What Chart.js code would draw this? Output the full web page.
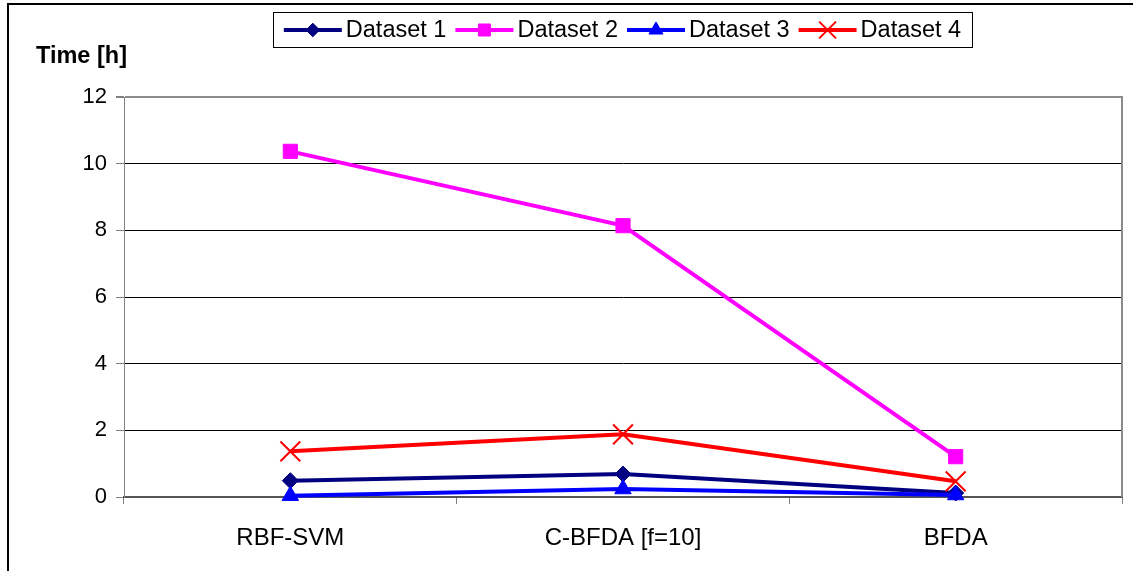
<!DOCTYPE html>
<html>
<head>
<meta charset="utf-8">
<script src="https://cdn.jsdelivr.net/npm/chart.js@4.4.1/dist/chart.umd.min.js"></script>
<style>
  html, body { margin: 0; padding: 0; background: #fff; }
  #wrap { width: 1133px; height: 571px; position: relative; }
</style>
</head>
<body>
<div id="wrap"><canvas id="c" width="1133" height="571"></canvas></div>
<script>
// Training time per method, in hours
const categories = ['RBF-SVM', 'C-BFDA [f=10]', 'BFDA'];
const dataset1 = [0.49, 0.69, 0.12];
const dataset2 = [10.37, 8.14, 1.21];
const dataset3 = [0.04, 0.24, 0.06];
const dataset4 = [1.37, 1.88, 0.47];
const seriesNames = ['Dataset 1', 'Dataset 2', 'Dataset 3', 'Dataset 4'];
const yTickValues = [0, 2, 4, 6, 8, 10, 12];
const axisTitle = 'Time [h]';

const FONT = "'Liberation Sans', Arial, sans-serif";

const seriesStyle = [
  { color: '#000080', point: 'rectRot', radius: 8, pbw: 1 },
  { color: '#FF00FF', point: 'rect', radius: 10, pbw: 1 },
  { color: '#0000FF', point: 'triangle', radius: 9.5, pbw: 1 },
  { color: '#FF0000', point: 'crossRot', radius: 14, pbw: 2 }
];
const seriesValues = [dataset1, dataset2, dataset3, dataset4];

const datasets = seriesValues.map((vals, i) => ({
  label: seriesNames[i],
  data: vals,
  borderColor: seriesStyle[i].color,
  backgroundColor: seriesStyle[i].color,
  borderWidth: 4,
  pointStyle: seriesStyle[i].point,
  pointRadius: seriesStyle[i].radius,
  pointBorderWidth: seriesStyle[i].pbw,
  pointBackgroundColor: seriesStyle[i].color,
  pointBorderColor: seriesStyle[i].color,
  tension: 0,
  clip: false,
  order: seriesValues.length - i
}));

// small marker painter for the legend swatches
function paintMarker(ctx, style, x, y, r, color, bw) {
  ctx.save();
  ctx.fillStyle = color;
  ctx.strokeStyle = color;
  ctx.lineWidth = bw;
  ctx.beginPath();
  if (style === 'rectRot') {
    ctx.moveTo(x - r, y); ctx.lineTo(x, y - r); ctx.lineTo(x + r, y); ctx.lineTo(x, y + r);
    ctx.closePath(); ctx.fill(); ctx.stroke();
  } else if (style === 'rect') {
    const s = Math.SQRT1_2 * r;
    ctx.rect(x - s, y - s, 2 * s, 2 * s); ctx.fill(); ctx.stroke();
  } else if (style === 'triangle') {
    const a = -Math.PI / 2;
    for (let k = 0; k < 3; k++) {
      const ang = a + k * 2 * Math.PI / 3;
      const px = x + Math.cos(ang) * r, py = y + Math.sin(ang) * r;
      if (k === 0) ctx.moveTo(px, py); else ctx.lineTo(px, py);
    }
    ctx.closePath(); ctx.fill(); ctx.stroke();
  } else if (style === 'crossRot') {
    const d = Math.SQRT1_2 * r;
    ctx.moveTo(x - d, y - d); ctx.lineTo(x + d, y + d);
    ctx.moveTo(x + d, y - d); ctx.lineTo(x - d, y + d);
    ctx.stroke();
  }
  ctx.restore();
}

const decorations = {
  id: 'decorations',
  afterDraw(chart) {
    const ctx = chart.ctx;
    const area = chart.chartArea;
    ctx.save();

    // outer frame (left and top edges)
    ctx.strokeStyle = '#000';
    ctx.lineWidth = 2;
    ctx.beginPath();
    ctx.moveTo(8, 571); ctx.lineTo(8, 4); ctx.lineTo(1133, 4);
    ctx.stroke();

    // right edge of the plot area
    ctx.strokeStyle = '#8c8c8c';
    ctx.lineWidth = 2;
    ctx.beginPath();
    ctx.moveTo(area.right, area.top - 1); ctx.lineTo(area.right, area.bottom);
    ctx.stroke();

    // axis title
    ctx.fillStyle = '#000';
    ctx.font = "bold 23.5px " + FONT;
    ctx.textBaseline = 'alphabetic';
    ctx.textAlign = 'left';
    ctx.fillText(axisTitle, 36, 63);

    // legend box
    const boxL = 273, boxT = 12, boxR = 972, boxB = 47;
    ctx.fillStyle = '#fff';
    ctx.fillRect(boxL, boxT, boxR - boxL, boxB - boxT);
    ctx.strokeStyle = '#000';
    ctx.lineWidth = 1;
    ctx.strokeRect(boxL + 0.5, boxT + 0.5, boxR - boxL, boxB - boxT);

    ctx.font = "23.5px " + FONT;
    const lineLen = 58, gapText = 4, gapItem = 9;
    const widths = seriesNames.map(n => ctx.measureText(n).width);
    const total = widths.reduce((a, w) => a + lineLen + gapText + w, 0) + gapItem * (seriesNames.length - 1);
    let x = (boxL + boxR) / 2 - total / 2;
    const cy = (boxT + boxB) / 2 + 0.5;
    seriesNames.forEach((name, i) => {
      const st = seriesStyle[i];
      ctx.strokeStyle = st.color;
      ctx.lineWidth = 4;
      ctx.beginPath();
      ctx.moveTo(x, cy); ctx.lineTo(x + lineLen, cy);
      ctx.stroke();
      paintMarker(ctx, st.point, x + lineLen / 2, cy, st.radius * 0.85, st.color, st.pbw);
      ctx.fillStyle = '#000';
      ctx.textBaseline = 'middle';
      ctx.fillText(name, x + lineLen + gapText, cy + 1);
      x += lineLen + gapText + widths[i] + gapItem;
    });
    ctx.restore();
  }
};

new Chart(document.getElementById('c'), {
  type: 'line',
  data: { labels: categories, datasets },
  options: {
    responsive: false,
    animation: false,
    devicePixelRatio: 1,
    layout: { autoPadding: false, padding: { top: 97, right: 11, left: 0, bottom: 0 } },
    plugins: { legend: { display: false }, tooltip: { enabled: false }, title: { display: false } },
    scales: {
      x: {
        offset: true,
        grid: { offset: true, drawOnChartArea: false, drawTicks: true, tickLength: 7, tickColor: '#808080', tickWidth: 1 },
        border: { color: '#555', width: 2 },
        ticks: { font: { family: FONT, size: 24 }, color: '#000', padding: 20, maxRotation: 0 },
        afterFit(s) { s.height = 74; s.paddingLeft = 0; s.paddingRight = 0; }
      },
      y: {
        min: 0,
        max: 12,
        afterBuildTicks(s) { s.ticks = yTickValues.map(v => ({ value: v })); },
        ticks: { font: { family: FONT, size: 22 }, color: '#000', padding: 9 },
        grid: {
          color: c => c.tick.value === 12 ? '#8c8c8c' : (c.tick.value === 0 ? 'rgba(0,0,0,0)' : '#000'),
          lineWidth: c => c.tick.value === 12 ? 2 : 1,
          tickLength: 8,
          tickColor: '#808080'
        },
        border: { color: '#808080', width: 1 },
        afterFit(s) { s.width = 124; s.paddingTop = 0; s.paddingBottom = 0; }
      }
    }
  },
  plugins: [decorations]
});
</script>
</body>
</html>
